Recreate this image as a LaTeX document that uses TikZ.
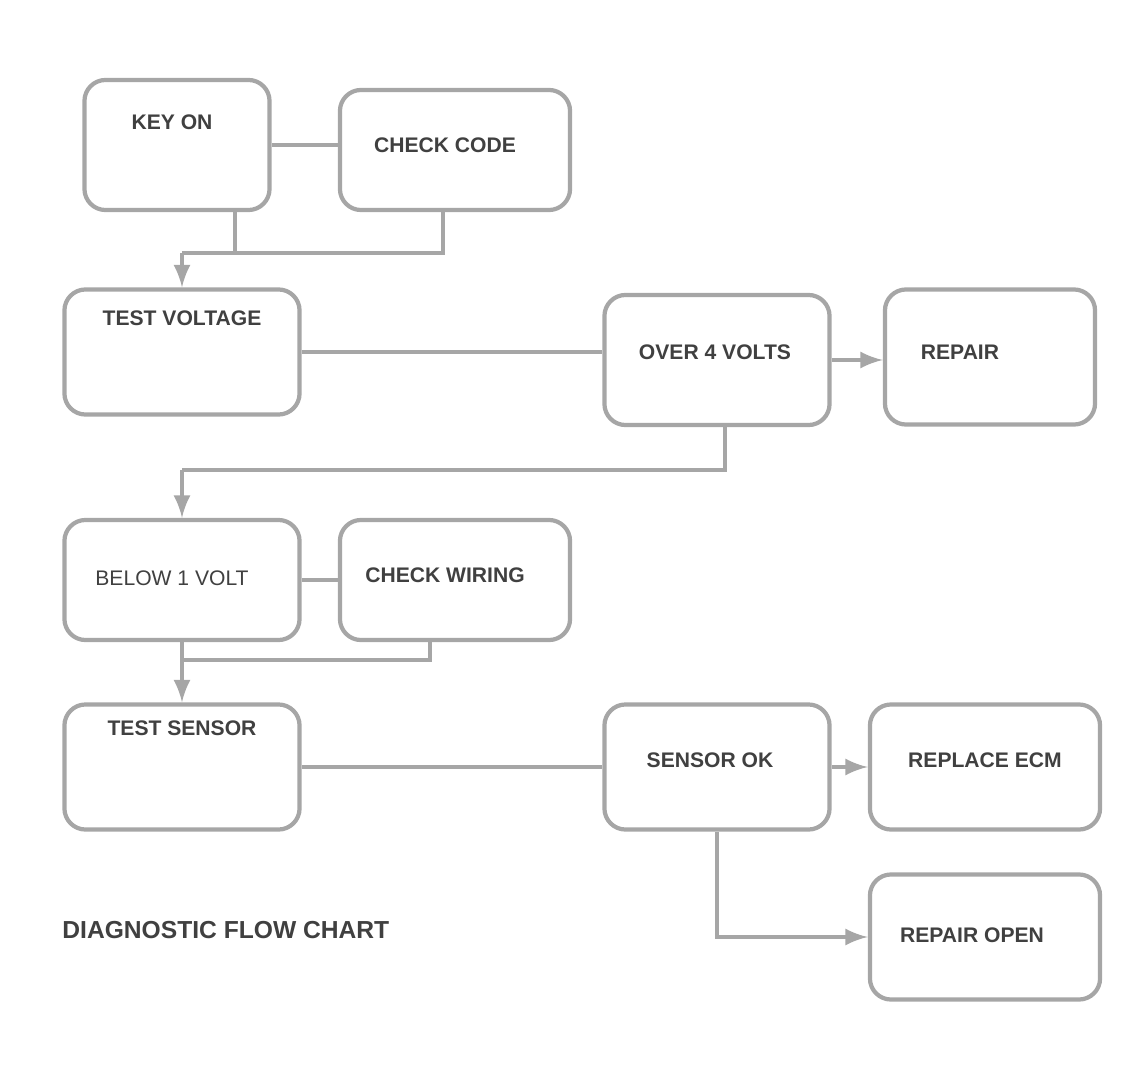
\documentclass[tikz,border=0pt]{standalone}
\usepackage{fontspec}
\setmainfont{Liberation Sans}

\begin{document}
\begin{tikzpicture}[x=0.01cm, y=-0.01cm, >=latex,
	box/.style={draw=black!35, line width=1.2pt, rounded corners=6pt, fill=white},
	txt/.style={text=black!75, font=\bfseries\fontsize{6}{7}\selectfont},
	line/.style={draw=black!35, line width=1.2pt},
	arrow/.style={line, ->}]
	\useasboundingbox (0,0) rectangle (1136,1079);
	% boxes
	\node[box, minimum width=1.85cm, minimum height=1.30cm] (start) at (177,145) {};
	\node[box, minimum width=2.30cm, minimum height=1.20cm] (check) at (455,150) {};
	\node[box, minimum width=2.35cm, minimum height=1.25cm] (volt) at (182,352) {};
	\node[box, minimum width=2.25cm, minimum height=1.30cm] (high) at (717,360) {};
	\node[box, minimum width=2.10cm, minimum height=1.35cm] (fix) at (990,357) {};
	\node[box, minimum width=2.35cm, minimum height=1.20cm] (low) at (182,580) {};
	\node[box, minimum width=2.30cm, minimum height=1.20cm] (wire) at (455,580) {};
	\node[box, minimum width=2.35cm, minimum height=1.25cm] (sensor) at (182,767) {};
	\node[box, minimum width=2.25cm, minimum height=1.25cm] (ok) at (717,767) {};
	\node[box, minimum width=2.30cm, minimum height=1.25cm] (ecm) at (985,767) {};
	\node[box, minimum width=2.30cm, minimum height=1.25cm] (open) at (985,937) {};
	% texts
	\node[txt] (starttxt) at (172,122) {KEY ON};
	\node[txt] (checktxt) at (445,145) {CHECK CODE};
	\node[txt] (volttxt) at (182,318) {TEST VOLTAGE};
	\node[txt] (hightxt) at (715,352) {OVER 4 VOLTS};
	\node[txt] (fixtxt) at (960,352) {REPAIR};
	\node[txt, font=\fontsize{6}{7}\selectfont] (lowtxt) at (172,578) {BELOW 1 VOLT};
	\node[txt] (wiretxt) at (445,575) {CHECK WIRING};
	\node[txt] (sensortxt) at (182,728) {TEST SENSOR};
	\node[txt] (oktxt) at (710,760) {SENSOR OK};
	\node[txt] (ecmtxt) at (985,760) {REPLACE ECM};
	\node[txt] (opentxt) at (972,935) {REPAIR OPEN};
	\node[txt, anchor=west, font=\bfseries\fontsize{7}{8}\selectfont] (caption) at (50,930) {DIAGNOSTIC FLOW CHART};
	% connectors
	\coordinate (j1) at (182,253);
	\coordinate (j2) at (182,470);
	\coordinate (j3) at (182,660);
	\draw[line] (start.east) -- (start.east -| check.west);
	\draw[line] ([xshift=0.58cm]start.south) |- (j1);
	\draw[line] ([xshift=-0.12cm]check.south) |- (j1);
	\draw[arrow] (j1) -- (volt.north);
	\draw[line] (volt.east) -- (volt.east -| high.west);
	\draw[arrow] (high.east) -- (high.east -| fix.west);
	\draw[line] ([xshift=0.08cm]high.south) |- (j2);
	\draw[arrow] (j2) -- (low.north);
	\draw[line] (low.east) -- (low.east -| wire.west);
	\draw[line] ([xshift=-0.25cm]wire.south) |- (j3);
	\draw[arrow] (low.south) -- (sensor.north);
	\draw[line] (sensor.east) -- (sensor.east -| ok.west);
	\draw[arrow] (ok.east) -- (ok.east -| ecm.west);
	\draw[arrow] (ok.south) |- (open.west);
\end{tikzpicture}
\end{document}
